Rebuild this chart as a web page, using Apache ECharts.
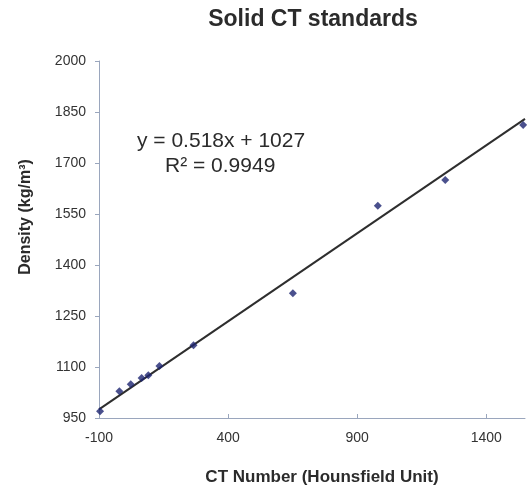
<!DOCTYPE html>
<html>
<head>
<meta charset="utf-8">
<script src="https://cdn.jsdelivr.net/npm/echarts@6/dist/echarts.min.js"></script>
<style>
  html, body { margin: 0; padding: 0; background: #fff; }
  #chart { width: 527px; height: 496px; }
</style>
</head>
<body>
<div id="chart"></div>
<script>
// CT number (HU) of each solid standard and its measured density (kg/m^3)
const ctNumbers = [-96, -21, 23, 65, 91, 134, 266, 651, 980, 1241, 1543];
const densities = [970, 1029, 1049, 1068, 1076, 1103, 1164, 1317, 1574, 1650, 1812];

// Linear fit reported for the standards
const fitSlope = 0.518;
const fitIntercept = 1027;
const fitR2 = 0.9949;

const xRange = [-100, 1550];
const yRange = [950, 2000];

const points = ctNumbers.map((x, i) => [x, densities[i]]);
const fitLine = xRange.map(x => [x, fitSlope * x + fitIntercept]);

const font = 'Liberation Sans, Arial, sans-serif';
const axisColor = '#9aa6bd';
const textColor = '#2b2b2b';
const plain = v => String(v);

const chart = echarts.init(document.getElementById('chart'), null, { renderer: 'canvas' });
chart.setOption({
  backgroundColor: '#ffffff',
  animation: false,
  title: {
    text: 'Solid CT standards',
    left: 308,
    top: 3,
    textAlign: 'center',
    textStyle: { fontFamily: font, fontSize: 23, fontWeight: 'bold', color: textColor }
  },
  grid: { left: 99, right: 2, top: 61, bottom: 78 },
  xAxis: {
    type: 'value',
    min: xRange[0],
    max: xRange[1],
    interval: 500,
    axisLine: { show: true, onZero: false, lineStyle: { color: axisColor, width: 1 } },
    axisTick: { show: true, inside: true, length: 4, lineStyle: { color: axisColor } },
    axisLabel: { fontFamily: font, fontSize: 14, color: '#333', margin: 13, showMaxLabel: false, formatter: plain },
    splitLine: { show: false }
  },
  yAxis: {
    type: 'value',
    min: yRange[0],
    max: yRange[1],
    interval: 150,
    axisLine: { show: true, onZero: false, lineStyle: { color: axisColor, width: 1 } },
    axisTick: { show: true, length: 4, lineStyle: { color: axisColor } },
    axisLabel: { fontFamily: font, fontSize: 14, color: '#333', margin: 13, formatter: plain },
    splitLine: { show: false }
  },
  series: [
    {
      type: 'line',
      data: fitLine,
      showSymbol: false,
      lineStyle: { color: '#2e2e2e', width: 2 },
      silent: true,
      z: 2
    },
    {
      type: 'scatter',
      data: points,
      symbol: 'diamond',
      symbolSize: 8,
      itemStyle: { color: '#1d2470' },
      z: 3
    }
  ],
  graphic: [
    {
      // axis titles
      type: 'text',
      x: 322,
      y: 477,
      style: {
        text: 'CT Number (Hounsfield Unit)',
        font: 'bold 17px ' + font,
        fill: textColor,
        textAlign: 'center',
        textVerticalAlign: 'middle'
      }
    },
    {
      type: 'text',
      x: 26,
      y: 217,
      rotation: Math.PI / 2,
      style: {
        text: 'Density (kg/m³)',
        font: 'bold 16px ' + font,
        fill: textColor,
        textAlign: 'center',
        textVerticalAlign: 'middle'
      }
    },
    {
      // fit equation and coefficient of determination
      type: 'text',
      left: 137,
      top: 131,
      style: {
        text: 'y = ' + fitSlope + 'x + ' + fitIntercept,
        font: '21px ' + font,
        fill: textColor
      }
    },
    {
      type: 'text',
      left: 165,
      top: 156,
      style: {
        text: 'R² = ' + fitR2,
        font: '21px ' + font,
        fill: textColor
      }
    }
  ]
});
</script>
</body>
</html>
